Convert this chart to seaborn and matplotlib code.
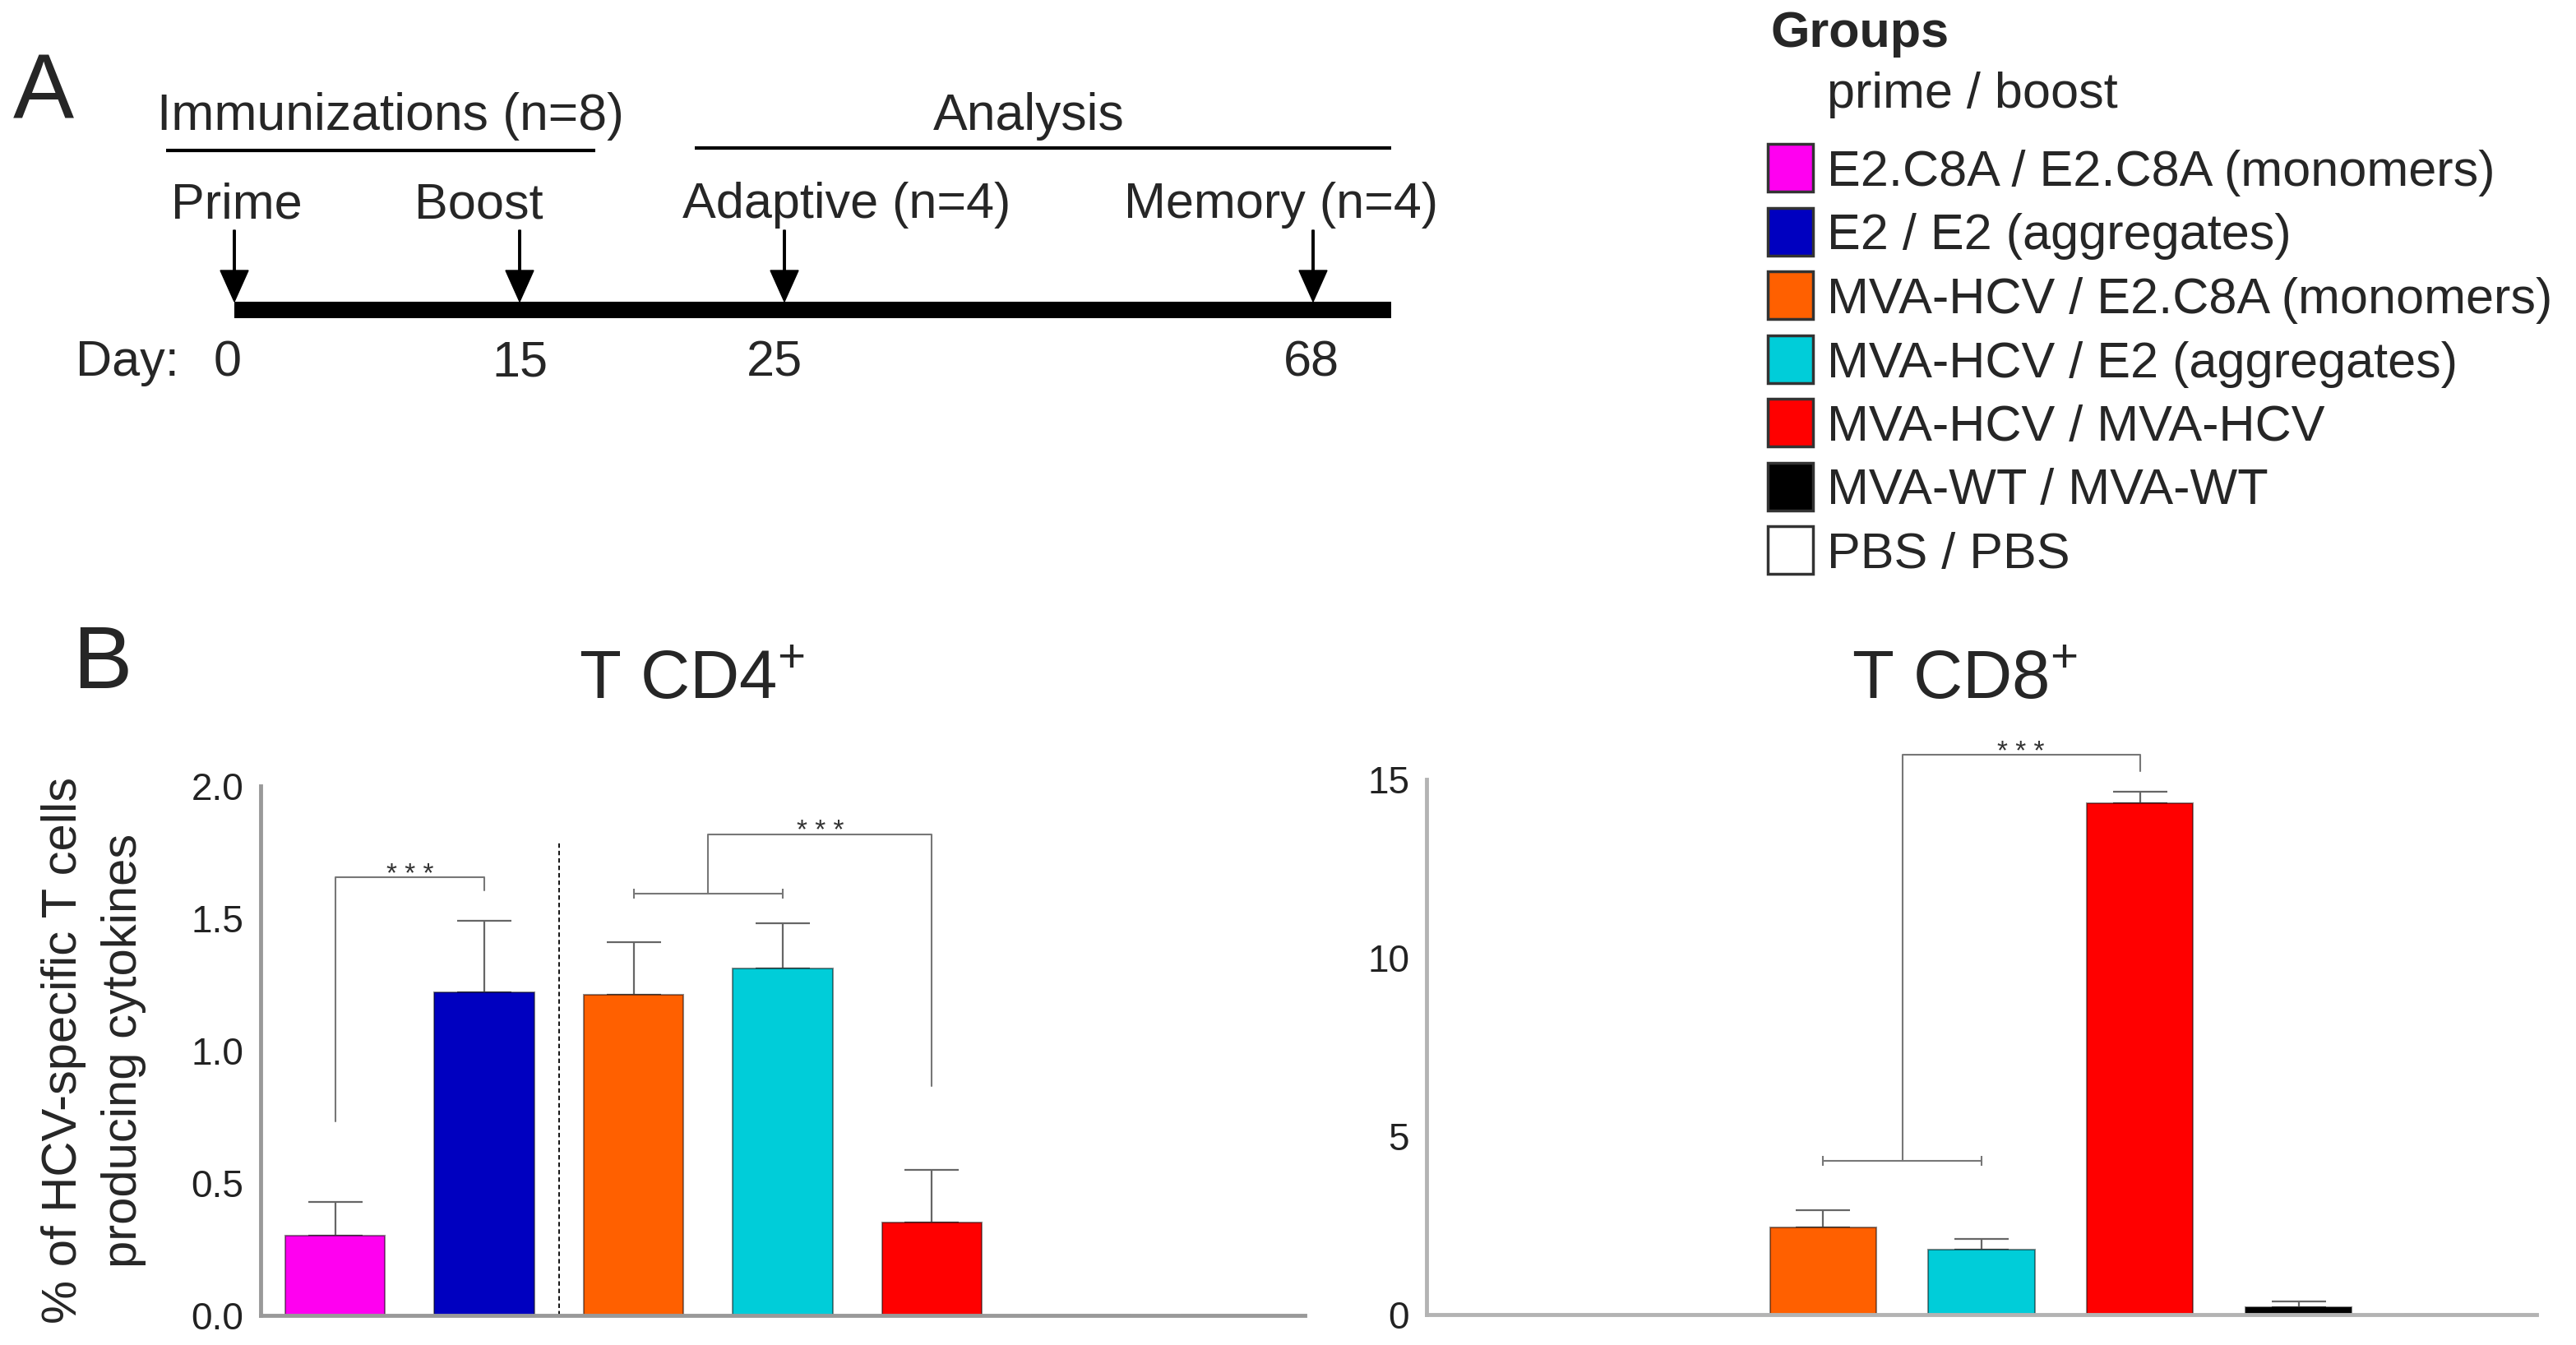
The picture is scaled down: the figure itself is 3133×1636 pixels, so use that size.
import numpy as np
import pandas as pd
import matplotlib
matplotlib.use("Agg")
import matplotlib.pyplot as plt
import seaborn as sns
from matplotlib.patches import Rectangle

# groups and colours
groups = ["E2.C8A / E2.C8A (monomers)", "E2 / E2 (aggregates)", "MVA-HCV / E2.C8A (monomers)",
          "MVA-HCV / E2 (aggregates)", "MVA-HCV / MVA-HCV", "MVA-WT / MVA-WT", "PBS / PBS"]
colors = ["#FF00F0", "#0000C0", "#FF6000", "#00CDD9", "#FF0000", "#000000", "#FFFFFF"]

# % of HCV-specific T cells producing cytokines (mean, upper SEM)
cd4_mean = [0.30, 1.22, 1.21, 1.31, 0.35, 0.0, 0.0]
cd4_err = [0.13, 0.27, 0.20, 0.17, 0.20, 0.0, 0.0]
cd8_mean = [0.0, 0.0, 2.45, 1.82, 14.34, 0.21, 0.0]
cd8_err = [0.0, 0.0, 0.48, 0.30, 0.31, 0.17, 0.0]

# timeline (panel A)
days = [0, 15, 25, 68]
events = ["Prime", "Boost", "Adaptive (n=4)", "Memory (n=4)"]

W, H = 3133, 1636

sns.set_style("white")
plt.rcParams["font.family"] = ["Liberation Sans", "DejaVu Sans"]
plt.rcParams["mathtext.fontset"] = "custom"
plt.rcParams["mathtext.rm"] = "Liberation Sans"

fig = plt.figure(figsize=(W / 100, H / 100), dpi=100)

# overlay axes in pixel coordinates for the schematic + legend
ax0 = fig.add_axes([0, 0, 1, 1], zorder=-1)
ax0.set_xlim(0, W)
ax0.set_ylim(H, 0)
ax0.axis("off")

ax0.text(16, 143, "A", fontsize=80, va="baseline")
ax0.text(88, 837, "B", fontsize=78, va="baseline")

# timeline layout
arrow_x = [285, 632, 954, 1597]
event_left = [208, 504, 830, 1367]
day_x = [277, 632, 942, 1595]

ax0.text(475, 158, "Immunizations (n=8)", fontsize=45, ha="center", va="baseline")
ax0.plot([202, 724], [183, 183], color="black", lw=3, solid_capstyle="butt")
ax0.text(1251, 158, "Analysis", fontsize=45, ha="center", va="baseline")
ax0.plot([845, 1692], [180, 180], color="black", lw=3, solid_capstyle="butt")
ax0.add_patch(Rectangle((285, 367), 1692 - 285, 20, facecolor="black", edgecolor="none"))
for xa, xl, xd, ev, d in zip(arrow_x, event_left, day_x, events, days):
    ax0.arrow(xa, 280, 0, 87, width=2.5, head_width=34, head_length=38,
              length_includes_head=True, fc="black", ec="black")
    ax0.text(xl, 265, ev, fontsize=44, va="baseline")
    ax0.text(xd, 457, str(d), fontsize=44, ha="center", va="baseline")
ax0.text(92, 457, "Day:", fontsize=44, va="baseline")

# legend
ax0.text(2153, 57, "Groups", fontsize=44, fontweight="bold", va="baseline")
ax0.text(2222, 131, "prime / boost", fontsize=44, va="baseline")
for i, (g, c) in enumerate(zip(groups, colors)):
    cy = 204 + i * 77.5
    ax0.add_patch(Rectangle((2150, cy - 29), 55, 58, facecolor=c, edgecolor="#333333", lw=2.5))
    ax0.text(2222, cy + 22, g, fontsize=44, va="baseline")

pal = dict(zip(groups, colors))


def bar_panel(ax, mean, err, ymax, yticks, fmt, spine_col):
    df = pd.DataFrame({"group": groups, "value": mean})
    sns.barplot(data=df, x="group", y="value", hue="group", palette=pal, width=0.67,
                saturation=1, errorbar=None, edgecolor=(0, 0, 0, 0.45), linewidth=1.5,
                legend=False, ax=ax)
    m = np.array(mean)
    e = np.array(err)
    keep = e > 0
    xs = np.arange(len(groups))[keep]
    ax.errorbar(xs, m[keep], yerr=[np.zeros(keep.sum()), e[keep]], fmt="none",
                ecolor="#666666", elinewidth=1.6, capsize=24, capthick=1.6, zorder=0.5)
    ax.set_xlim(-0.5, len(groups) - 0.5)
    ax.set_ylim(0, ymax)
    ax.set_yticks(yticks)
    ax.set_yticklabels([fmt.format(t) for t in yticks])
    ax.set_xlabel("")
    ax.set_ylabel("")
    sns.despine(ax=ax)
    for s in ["left", "bottom"]:
        ax.spines[s].set_color(spine_col)
        ax.spines[s].set_linewidth(3.5)
    ax.tick_params(axis="x", length=9, width=1.4, color="#777777", labelbottom=False, direction="out")
    ax.tick_params(axis="y", length=6, width=1.4, color="#888888", labelsize=33,
                   labelcolor="#222222", pad=9, direction="out")
    ax.patch.set_alpha(0)


def bracket(ax, pts, star_x, star_y):
    xs, ys = zip(*pts)
    ax.plot(xs, ys, color="#777777", lw=1.5, clip_on=False)
    ax.annotate("* * *", xy=(star_x, star_y), xytext=(0, -4), textcoords="offset points",
                ha="center", va="baseline", fontsize=24, color="#333333", annotation_clip=False)


# CD4 panel
ax4 = fig.add_axes([317 / W, (H - 1600) / H, (1587 - 317) / W, (1600 - 956) / H])
bar_panel(ax4, cd4_mean, cd4_err, 2.0, [0, 0.5, 1.0, 1.5, 2.0], "{:.1f}", "#999999")
ax4.vlines(1.5, 0, 1.79, colors="black", linestyles=(0, (3, 2)), lw=1.3)
bracket(ax4, [(0, 0.733), (0, 1.655), (1, 1.655), (1, 1.606)], 0.5, 1.655)
ax4.errorbar(2.5, 1.592, xerr=0.5, fmt="none", ecolor="#777777", elinewidth=1.5, capsize=4, capthick=1.5)
bracket(ax4, [(2.5, 1.592), (2.5, 1.818), (4, 1.818), (4, 0.868)], 3.25, 1.818)

# CD8 panel
ax8 = fig.add_axes([1735 / W, (H - 1599) / H, (3085 - 1735) / W, (1599 - 948) / H])
bar_panel(ax8, cd8_mean, cd8_err, 15, [0, 5, 10, 15], "{:d}", "#b3b3b3")
ax8.errorbar(2.5, 4.31, xerr=0.5, fmt="none", ecolor="#777777", elinewidth=1.5, capsize=4, capthick=1.5)
bracket(ax8, [(2.5, 4.31), (2.5, 15.69), (4, 15.69), (4, 15.23)], 3.25, 15.69)

# titles and y label
fig.text(704 / W, 1 - 850 / H, "T CD4$^{+}$", fontsize=60, va="baseline")
fig.text(2252 / W, 1 - 850 / H, "T CD8$^{+}$", fontsize=60, va="baseline")
fig.text(114 / W, 1 - 1278 / H, "% of HCV-specific T cells\nproducing cytokines", rotation=90,
         ha="center", va="center", fontsize=43, linespacing=1.4, multialignment="center")

fig.savefig("out.png", dpi=100)
